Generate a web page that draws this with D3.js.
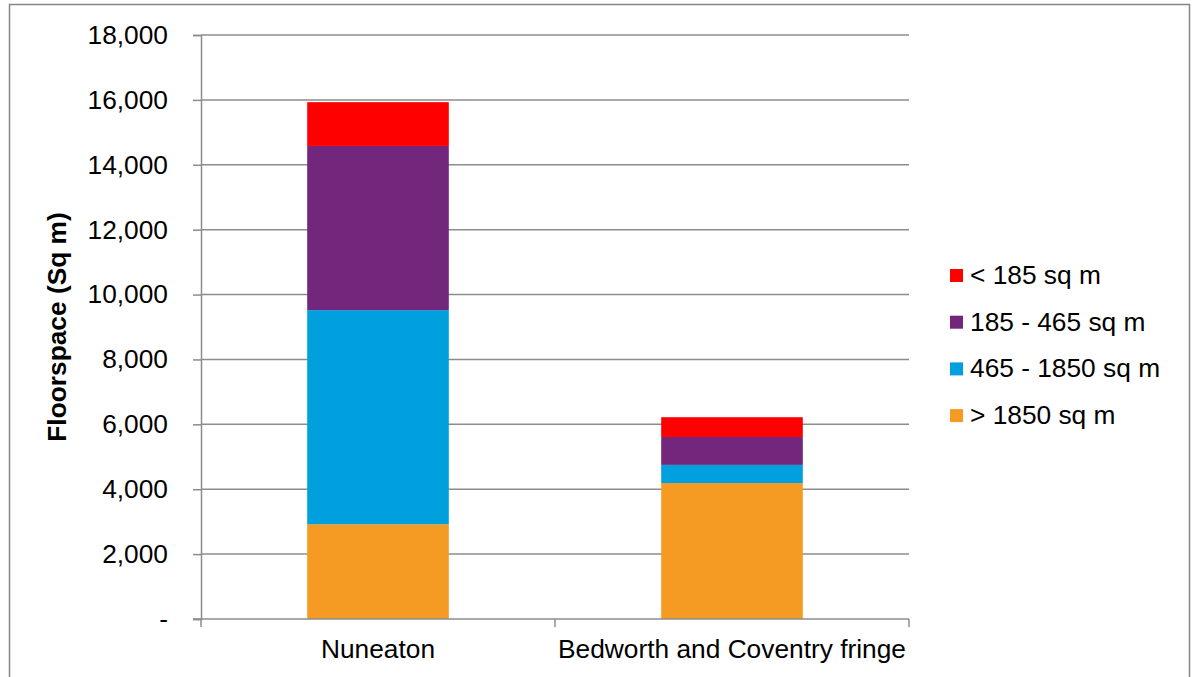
<!DOCTYPE html>
<html>
<head>
<meta charset="utf-8">
<script src="https://cdn.jsdelivr.net/npm/d3@7"></script>
<style>
  html, body { margin: 0; padding: 0; background: #fff; }
  svg { display: block; font-family: "Liberation Sans", Arial, sans-serif; }
</style>
</head>
<body>
<svg id="chart" width="1193" height="677"></svg>
<script>
// Floorspace by unit size band, stacked per area
const categories = ["Nuneaton", "Bedworth and Coventry fringe"];
const seriesNames = ["> 1850 sq m", "465 - 1850 sq m", "185 - 465 sq m", "< 185 sq m"];
const seriesColors = ["#F59B23", "#009FDE", "#72267C", "#FF0000"];
const over1850 = [2920, 4190];
const from465to1850 = [6600, 560];
const from185to465 = [5060, 860];
const under185 = [1350, 610];
const yTicks = [0, 2000, 4000, 6000, 8000, 10000, 12000, 14000, 16000, 18000];

const seriesValues = [over1850, from465to1850, from185to465, under185];
const rows = categories.map((c, i) => {
  const r = { category: c };
  seriesNames.forEach((s, k) => { r[s] = seriesValues[k][i]; });
  return r;
});

const FONT = "Liberation Sans, Arial, sans-serif";
const FS = 26.3;
const svg = d3.select("#chart");
const plot = { left: 201, right: 909, top: 35, bottom: 619 };

// outer frame
svg.append("rect")
  .attr("x", 9.5).attr("y", 4.5)
  .attr("width", 1180).attr("height", 680)
  .attr("fill", "none").attr("stroke", "#868686").attr("stroke-width", 1.5);

const x = d3.scaleBand().domain(categories).range([plot.left, plot.right]).paddingInner(0.6).paddingOuter(0.3);
const xOuter = d3.scaleBand().domain(categories).range([plot.left, plot.right]);
const y = d3.scaleLinear().domain([0, 18000]).range([plot.bottom, plot.top]);

// gridlines
svg.append("g").selectAll("line").data(yTicks.filter(d => d > 0)).join("line")
  .attr("x1", plot.left).attr("x2", plot.right)
  .attr("y1", d => y(d)).attr("y2", d => y(d))
  .attr("stroke", "#8c8c8c").attr("stroke-width", 1.5);

// stacked bars
const stack = d3.stack().keys(seriesNames)(rows);
svg.append("g").selectAll("g").data(stack).join("g")
  .attr("fill", (d, i) => seriesColors[i])
  .selectAll("rect").data(d => d).join("rect")
  .attr("x", d => x(d.data.category))
  .attr("width", x.bandwidth())
  .attr("y", d => y(d[1]))
  .attr("height", d => y(d[0]) - y(d[1]));

// y axis
const fmt = d => d === 0 ? "-" : d3.format(",")(d);
const yAxis = svg.append("g").attr("transform", `translate(${plot.left},0)`)
  .call(d3.axisLeft(y).tickValues(yTicks).tickFormat(fmt).tickSize(8).tickPadding(25));
yAxis.attr("font-size", FS).attr("font-family", FONT);
yAxis.select(".domain").attr("stroke", "#8c8c8c").attr("stroke-width", 1.5);
yAxis.selectAll(".tick line").attr("stroke", "#8c8c8c").attr("stroke-width", 1.5);
yAxis.selectAll(".tick text").attr("fill", "#000");

// x axis
const xAxisG = svg.append("g").attr("transform", `translate(0,${plot.bottom})`);
xAxisG.append("line").attr("x1", plot.left - 8).attr("x2", plot.right)
  .attr("stroke", "#8c8c8c").attr("stroke-width", 1.5);
const bounds = [plot.left, ...categories.map(c => xOuter(c) + xOuter.bandwidth())];
xAxisG.selectAll("line.tk").data(bounds).join("line").attr("class", "tk")
  .attr("x1", d => d).attr("x2", d => d).attr("y1", 0).attr("y2", 8)
  .attr("stroke", "#8c8c8c").attr("stroke-width", 1.5);
xAxisG.selectAll("text").data(categories).join("text")
  .attr("x", d => xOuter(d) + xOuter.bandwidth() / 2)
  .attr("y", 39)
  .attr("text-anchor", "middle")
  .attr("font-size", FS).attr("fill", "#000")
  .text(d => d);

// y axis title
svg.append("text")
  .attr("transform", `translate(66,${(plot.top + plot.bottom) / 2}) rotate(-90)`)
  .attr("text-anchor", "middle")
  .attr("font-size", FS).attr("font-weight", "bold").attr("fill", "#000")
  .text("Floorspace (Sq m)");

// legend, top entry is the top of the stack
const legendOrder = seriesNames.map((s, i) => i).reverse();
const legend = svg.append("g").attr("transform", "translate(950,269)");
const item = legend.selectAll("g").data(legendOrder).join("g")
  .attr("transform", (d, j) => `translate(0,${j * 46.7})`);
item.append("rect").attr("width", 13).attr("height", 13).attr("fill", d => seriesColors[d]);
item.append("text").attr("x", 20).attr("y", 15)
  .attr("font-size", FS).attr("fill", "#000")
  .text(d => seriesNames[d]);
</script>
</body>
</html>
